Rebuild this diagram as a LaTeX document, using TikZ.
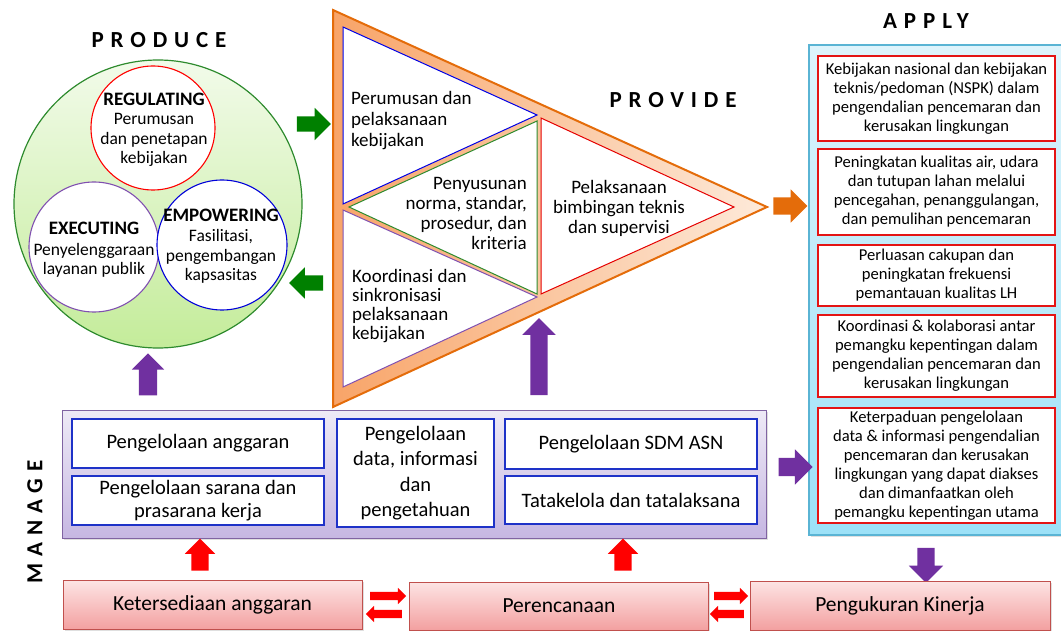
\documentclass[tikz,border=0pt]{standalone}
\usepackage{fontspec}
\setmainfont{Carlito}
\newfontfamily\titlefont[LetterSpace=30]{Carlito}
\usetikzlibrary{shapes.arrows,shadows}
\definecolor{pgreen}{RGB}{0,128,0}
\definecolor{porange}{RGB}{228,108,10}
\definecolor{ppurple}{RGB}{112,48,160}
\definecolor{pred}{RGB}{255,0,0}
\definecolor{mborder}{RGB}{128,100,162}
\definecolor{mtop}{RGB}{238,234,246}
\definecolor{mbot}{RGB}{198,183,226}
\definecolor{bblue}{RGB}{30,50,200}
\definecolor{aborder}{RGB}{90,180,212}
\definecolor{atop}{RGB}{222,244,252}
\definecolor{abot}{RGB}{156,225,247}
\definecolor{rbox}{RGB}{228,20,20}
\definecolor{ktop}{RGB}{253,228,228}
\definecolor{kbot}{RGB}{243,160,160}
\definecolor{kborder}{RGB}{192,80,77}
\definecolor{ctop}{RGB}{242,251,234}
\definecolor{cbot}{RGB}{196,236,154}
\definecolor{cborder}{RGB}{46,139,46}
\definecolor{tleft}{RGB}{248,164,104}
\definecolor{tright}{RGB}{253,234,218}
\definecolor{epurple}{RGB}{128,80,176}
\tikzset{
  title/.style={font=\titlefont\fontsize{23}{26}\selectfont\bfseries, inner sep=0pt},
  ctext/.style={font=\fontsize{17.5}{19.5}\selectfont, align=center, inner sep=0pt},
  ttext/.style={font=\fontsize{19}{21}\selectfont, inner sep=0pt},
  smallcircle/.style={circle, fill=white, line width=1.1pt, minimum size=#1, inner sep=0pt},
  innertri/.style={fill=white, line width=1pt},
  mbox/.style={draw=bblue, fill=white, line width=1.2pt, inner sep=0pt,
    font=\fontsize{20.5}{23}\selectfont, align=center},
  abox/.style={draw=rbox, fill=white, line width=1.2pt, inner sep=0pt,
    minimum width=237pt, font=\fontsize{16.6}{19}\selectfont, align=center},
  kbox/.style={draw=kborder, top color=ktop, bottom color=kbot, line width=0.8pt,
    minimum width=299pt, minimum height=49pt, inner sep=0pt,
    font=\fontsize{21.5}{24}\selectfont, drop shadow={shadow xshift=1.5pt, shadow yshift=-1.5pt, opacity=0.25}},
  blockarrow/.style={single arrow, draw=none, inner sep=0pt, minimum width=0pt,
    single arrow head indent=0pt},
}
\newcommand{\shaft}[1]{\rule{0pt}{#1}}
\begin{document}
\begin{tikzpicture}[x=1pt,y=-1pt]
\useasboundingbox (0,0) rectangle (1061,631);

% ---------- PRODUCE ----------
\node[title] (produce) at (159,40) {PRODUCE};
\node[circle, draw=cborder, line width=1.2pt, top color=ctop, bottom color=cbot,
      minimum size=288pt, inner sep=0pt] (bigcircle) at (158,204) {};
\node[smallcircle=124pt, draw=red] (regc) at (153,128) {};
\node[smallcircle=130pt, draw=epurple] (exec) at (94,247) {};
\node[smallcircle=130pt, draw=blue!85!black] (empc) at (222,245) {};
\node[ctext] (regt) at (154,130) {{\fontsize{19}{21}\selectfont\bfseries REGULATING}\\Perumusan\\dan penetapan\\kebijakan};
\node[ctext] (exect) at (94,250) {{\fontsize{19}{21}\selectfont\bfseries EXECUTING}\\[1pt]Penyelenggaraan\\layanan publik};
\node[ctext] (empt) at (221,246) {{\fontsize{19}{21}\selectfont\bfseries EMPOWERING}\\[1pt]Fasilitasi,\\pengembangan\\kapsasitas};

% green arrows
\node[blockarrow, fill=pgreen, minimum height=34pt, single arrow head extend=8.5pt] (ga1) at (310,124) {\shaft{15pt}};
\node[blockarrow, fill=pgreen, minimum height=34pt, single arrow head extend=8pt, rotate=180] (ga2) at (310,283) {\shaft{15pt}};

% ---------- PROVIDE triangle ----------
\coordinate (T1) at (333,10);
\coordinate (T2) at (333,407);
\coordinate (T3) at (767,207);
\draw[draw=porange, line width=2pt, left color=tleft, right color=tright] (T1) -- (T2) -- (T3) -- cycle;
\coordinate (B1) at (343,27);  \coordinate (B2) at (343,204); \coordinate (B3) at (537,115);
\coordinate (P1) at (343,210); \coordinate (P2) at (343,387); \coordinate (P3) at (537,297);
\coordinate (G1) at (349,207); \coordinate (G2) at (537,121); \coordinate (G3) at (537,294);
\coordinate (R1) at (541,118); \coordinate (R2) at (541,294); \coordinate (R3) at (734,207);
\draw[innertri, draw=blue!90!black] (B1) -- (B2) -- (B3) -- cycle;
\draw[innertri, draw=epurple] (P1) -- (P2) -- (P3) -- cycle;
\draw[innertri, draw=cborder] (G1) -- (G2) -- (G3) -- cycle;
\draw[innertri, draw=red!90!black] (R1) -- (R2) -- (R3) -- cycle;
\node[ttext, align=left, anchor=west] (tx1) at (351,121) {Perumusan dan\\pelaksanaan\\kebijakan};
\node[ttext, align=right, anchor=east, font=\fontsize{19}{20}\selectfont] (tx2) at (527,213) {Penyusunan\\norma, standar,\\prosedur, dan\\kriteria};
\node[ttext, align=center, font=\fontsize{19}{20}\selectfont] (tx3) at (619,208) {Pelaksanaan\\bimbingan teknis\\dan supervisi};
\node[ttext, align=left, anchor=west, font=\fontsize{19}{19}\selectfont] (tx4) at (352,306) {Koordinasi dan\\sinkronisasi\\pelaksanaan\\kebijakan};
\node[title] (provide) at (673,100) {PROVIDE};

\node[blockarrow, fill=porange, minimum height=34pt, single arrow head extend=8pt] (oa) at (786,206) {\shaft{17pt}};

% purple up arrows
\node[blockarrow, fill=ppurple, minimum height=42pt, single arrow head extend=7pt, rotate=90] (pa1) at (148,379) {\shaft{18pt}};
\node[blockarrow, fill=ppurple, minimum height=77pt, single arrow head extend=8pt, rotate=90] (pa2) at (539,361) {\shaft{17pt}};

% ---------- APPLY ----------
\node[title] (apply) at (926,21) {APPLY};
\node[draw=aborder, line width=1.2pt, top color=atop, bottom color=abot,
      minimum width=259pt, minimum height=490pt, inner sep=0pt,
      drop shadow={shadow xshift=1.5pt, shadow yshift=-1.5pt, opacity=0.25}] (applybox) at (938.5,290) {};
\node[abox, minimum height=85pt] (a1) at (936.5,98.5) {Kebijakan nasional dan kebijakan\\teknis/pedoman (NSPK) dalam\\pengendalian pencemaran dan\\kerusakan lingkungan};
\node[abox, minimum height=86pt] (a2) at (936.5,192) {Peningkatan kualitas air, udara\\dan tutupan lahan melalui\\pencegahan, penanggulangan,\\dan pemulihan pencemaran};
\node[abox, minimum height=61pt] (a3) at (936.5,275.5) {Perluasan cakupan dan\\peningkatan frekuensi\\pemantauan kualitas LH};
\node[abox, minimum height=82pt] (a4) at (936.5,356) {Koordinasi \& kolaborasi antar\\pemangku kepentingan dalam\\pengendalian pencemaran dan\\kerusakan lingkungan};
\node[abox, minimum height=115pt] (a5) at (936.5,465.5) {Keterpaduan pengelolaan\\data \& informasi pengendalian\\pencemaran dan kerusakan\\lingkungan yang dapat diakses\\dan dimanfaatkan oleh\\pemangku kepentingan utama};

% ---------- MANAGE ----------
\node[title, rotate=90] (manage) at (35,522) {MANAGE};
\node[draw=mborder, line width=1pt, top color=mtop, bottom color=mbot,
      minimum width=704pt, minimum height=128pt, inner sep=0pt,
      drop shadow={shadow xshift=1.5pt, shadow yshift=-1.5pt, opacity=0.25}] (managebox) at (414,474) {};
\node[mbox, minimum width=252pt, minimum height=49pt] (m1) at (198,443.5) {Pengelolaan anggaran};
\node[mbox, minimum width=252pt, minimum height=49pt] (m2) at (198,500.5) {Pengelolaan sarana dan\\prasarana kerja};
\node[mbox, minimum width=157pt, minimum height=108pt, font=\fontsize{20.5}{25.5}\selectfont] (m3) at (415.5,473) {Pengelolaan\\data, informasi\\dan\\pengetahuan};
\node[mbox, minimum width=252pt, minimum height=50pt] (m4) at (631,444) {Pengelolaan SDM ASN};
\node[mbox, minimum width=252pt, minimum height=48pt] (m5) at (631,500) {Tatakelola dan tatalaksana};

\node[blockarrow, fill=ppurple, minimum height=34pt, single arrow head extend=8.5pt] (pa3) at (791,467) {\shaft{18pt}};
\node[blockarrow, fill=ppurple, minimum height=35pt, single arrow head extend=8.5pt, rotate=-90] (pa4) at (926,561) {\shaft{17pt}};

% red up arrows
\node[blockarrow, fill=pred, minimum height=32pt, single arrow head extend=6.5pt, rotate=90] (ra1) at (200,559) {\shaft{17pt}};
\node[blockarrow, fill=pred, minimum height=32pt, single arrow head extend=6.5pt, rotate=90] (ra2) at (623,559) {\shaft{17pt}};

% ---------- bottom boxes ----------
\node[kbox] (k1) at (212.5,605) {Ketersediaan anggaran};
\node[kbox, minimum height=48pt] (k2) at (559,606) {Perencanaan};
\node[kbox, minimum width=300pt] (k3) at (900,605.5) {Pengukuran Kinerja};

% red double arrows
\node[blockarrow, fill=pred, minimum height=36pt, single arrow head extend=4pt] (d1) at (386,596) {\shaft{8pt}};
\node[blockarrow, fill=pred, minimum height=36pt, single arrow head extend=4pt, rotate=180] (d2) at (386,614) {\shaft{8pt}};
\node[blockarrow, fill=pred, minimum height=34pt, single arrow head extend=4pt] (d3) at (729,596) {\shaft{8pt}};
\node[blockarrow, fill=pred, minimum height=34pt, single arrow head extend=4pt, rotate=180] (d4) at (729,614) {\shaft{8pt}};
\end{tikzpicture}
\end{document}
